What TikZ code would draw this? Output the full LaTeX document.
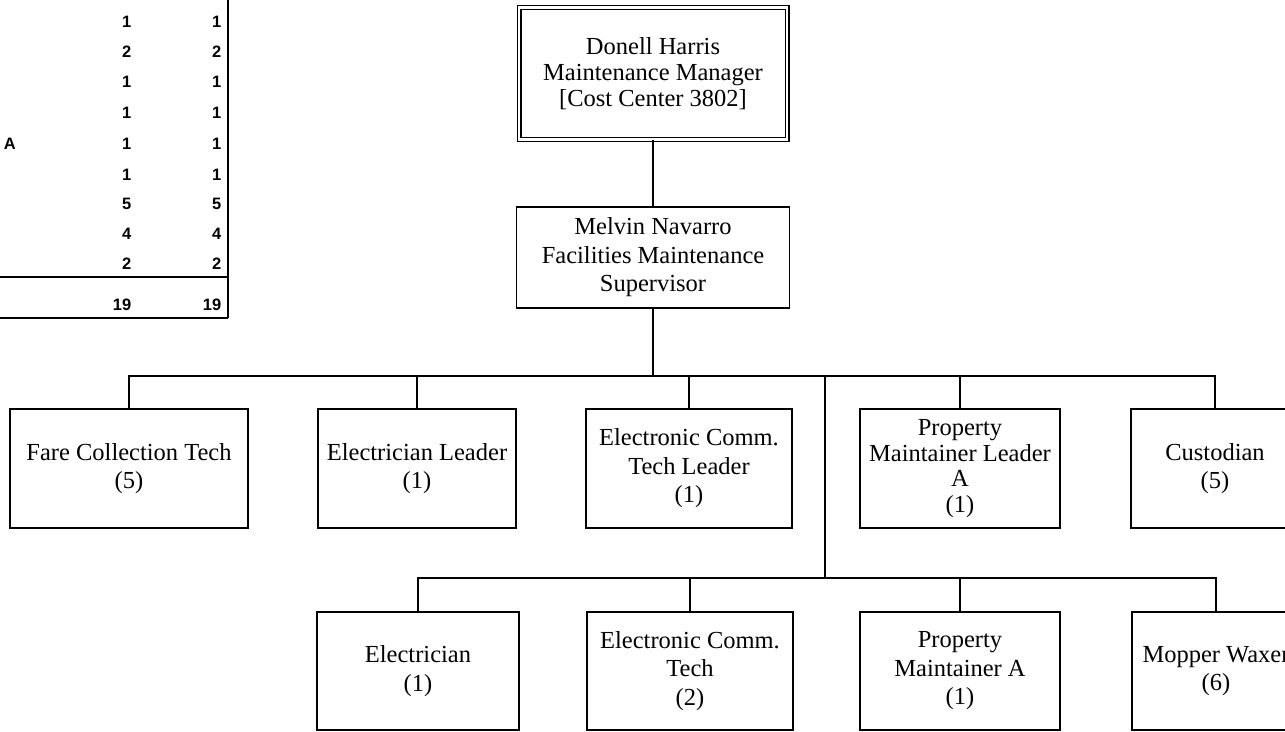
\documentclass[tikz,border=0pt]{standalone}
\usepackage{fontspec}
\setmainfont{Liberation Serif}
\setsansfont{Liberation Sans}

\begin{document}
\begin{tikzpicture}[x=1pt, y=-1pt, line width=1.6pt,
    box/.style={draw, line width=1.6pt, align=center, inner sep=0pt,
        font=\fontsize{24.5}{28.5}\selectfont},
    topbox/.style={box, double, line width=1.3pt, double distance=2.4pt,
        font=\fontsize{24.5}{26}\selectfont},
    cnt/.style={font=\sffamily\bfseries\fontsize{16.5}{18}\selectfont,
        inner sep=0pt, anchor=base east}]
    \useasboundingbox (0,0) rectangle (1285,731);
    \clip (0,0) rectangle (1285,731);
    % Position count table (cut off on the left)
    \draw (228,0) -- (228,318);
    \draw (0,277) -- (228,277);
    \draw (0,318) -- (228,318);
    \foreach \y/\v [count=\i] in {27/1,57/2,87/1,118/1,149/1,180/1,209/5,239/4,269/2,310/19} {
        \node[cnt] (auth\i) at (132,\y) {\v};
        \node[cnt] (fill\i) at (222,\y) {\v};
    }
    \node[cnt, anchor=base west] (rowa) at (3,149) {A};
    % Manager and supervisor
    \node[topbox, minimum width=268pt, minimum height=132pt] (mgr) at (653,73.5)
        {Donell Harris\\Maintenance Manager\\{[Cost Center 3802]}};
    \node[box, minimum width=273pt, minimum height=101pt] (sup) at (653,257.5)
        {Melvin Navarro\\Facilities Maintenance\\Supervisor};
    % First row
    \node[box, minimum width=238pt, minimum height=119pt] (fare) at (129,468.5)
        {Fare Collection Tech\\(5)};
    \node[box, minimum width=198pt, minimum height=119pt] (elecl) at (417,468.5)
        {Electrician Leader\\(1)};
    \node[box, minimum width=206pt, minimum height=119pt] (ecomml) at (689,468.5)
        {Electronic Comm.\\Tech Leader\\(1)};
    \node[box, minimum width=200pt, minimum height=119pt,
        font=\fontsize{24.5}{25.5}\selectfont] (propl) at (960,468.5)
        {Property\\Maintainer Leader\\A\\(1)};
    \node[box, minimum width=168pt, minimum height=119pt] (cust) at (1215,468.5)
        {Custodian\\(5)};
    % Second row
    \node[box, minimum width=202pt, minimum height=118pt] (elec) at (418,671)
        {Electrician\\(1)};
    \node[box, minimum width=206pt, minimum height=118pt] (ecomm) at (690,671)
        {Electronic Comm.\\Tech\\(2)};
    \node[box, minimum width=200pt, minimum height=118pt] (prop) at (960,671)
        {Property\\Maintainer A\\(1)};
    \node[box, minimum width=168pt, minimum height=118pt] (mop) at (1216,671)
        {Mopper Waxer\\(6)};
    % Connectors
    \coordinate (bus1) at (653,376);
    \coordinate (drop) at (825,376);
    \coordinate (bus2) at (825,578);
    \draw (mgr.south) -- (sup.north);
    \draw (sup.south) -- (bus1);
    \foreach \n in {fare,elecl,ecomml,propl,cust}
        \draw (\n.north) |- (bus1);
    \draw (drop) -- (bus2);
    \foreach \n in {elec,ecomm,prop,mop}
        \draw (\n.north) |- (bus2);
\end{tikzpicture}
\end{document}
